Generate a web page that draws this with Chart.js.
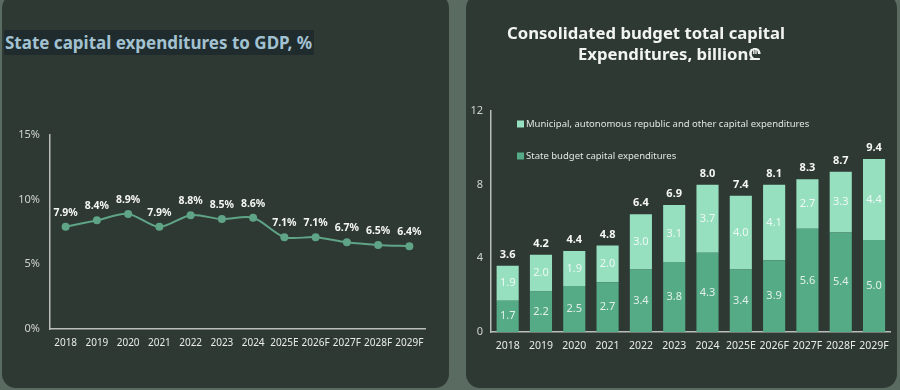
<!DOCTYPE html>
<html>
<head>
<meta charset="utf-8">
<script src="https://cdn.jsdelivr.net/npm/chart.js@4.4.1/dist/chart.umd.min.js"></script>
<style>
  html, body { margin:0; padding:0; }
  body { width:900px; height:390px; background:#5a6b61; position:relative; overflow:hidden; font-family:"Noto Sans", "Open Sans", sans-serif; }
  .panel { position:absolute; top:-6px; height:394px; background:#2f3934; border-radius:14px; }
  #p1 { left:2px; width:447px; }
  #p2 { left:466px; width:431px; }
  canvas { position:absolute; top:0; }
  #c1 { left:0; }
  #c2 { left:466px; }
  .t1 { position:absolute; left:4px; top:30px; height:25px; line-height:25px; padding:0 2px 0 1px; background:#1f2b2d; color:#a3c2d1; font-weight:700; font-size:17px; white-space:nowrap; }
  .t2 { position:absolute; color:#f2f4f2; font-weight:700; font-size:16.7px; white-space:nowrap; line-height:22px; }
</style>
</head>
<body>
<div class="panel" id="p1"></div>
<div class="panel" id="p2"></div>
<canvas id="c1" width="449" height="390"></canvas>
<canvas id="c2" width="431" height="390"></canvas>
<div class="t1">State capital expenditures to GDP, %</div>
<div class="t2" style="left:507px; top:22px;">Consolidated budget total capital</div>
<div class="t2" style="left:578px; top:43px;">Expenditures, billion₾</div>
<script>
// ---- Data ----
const years = ["2018","2019","2020","2021","2022","2023","2024","2025E","2026F","2027F","2028F","2029F"];
const gdpShare = [7.9, 8.4, 8.9, 7.9, 8.8, 8.5, 8.6, 7.1, 7.1, 6.7, 6.5, 6.4];
const pctTicks = [0, 5, 10, 15];

const stateCapex = [1.7, 2.2, 2.5, 2.7, 3.4, 3.8, 4.3, 3.4, 3.9, 5.6, 5.4, 5.0];
const municipalCapex = [1.9, 2.0, 1.9, 2.0, 3.0, 3.1, 3.7, 4.0, 4.1, 2.7, 3.3, 4.4];
const totalCapex = [3.6, 4.2, 4.4, 4.8, 6.4, 6.9, 8.0, 7.4, 8.1, 8.3, 8.7, 9.4];
const capexTicks = [0, 4, 8, 12];
const seriesNames = ["State budget capital expenditures", "Municipal, autonomous republic and other capital expenditures"];

const FONT = "'Noto Sans', 'Open Sans', sans-serif";
Chart.defaults.font.family = FONT;
Chart.defaults.animation = false;

// ---- Left: line chart ----
const lineLabels = {
  id: 'lineLabels',
  afterDatasetsDraw(chart) {
    const ctx = chart.ctx;
    const meta = chart.getDatasetMeta(0);
    ctx.save();
    ctx.font = "bold 10.5px " + FONT;
    ctx.fillStyle = '#f4f6f4';
    ctx.textAlign = 'center';
    ctx.textBaseline = 'middle';
    meta.data.forEach((pt, i) => {
      ctx.fillText(gdpShare[i].toFixed(1) + '%', pt.x, pt.y - 14);
    });
    ctx.restore();
  }
};

new Chart(document.getElementById('c1'), {
  type: 'line',
  data: {
    labels: years,
    datasets: [{
      data: gdpShare,
      borderColor: '#5fa486',
      backgroundColor: '#5fa486',
      borderWidth: 2,
      tension: 0.3,
      pointRadius: 4,
      pointBackgroundColor: '#5fa486',
      pointBorderWidth: 0
    }]
  },
  options: {
    responsive: false,
    layout: { padding: { left: 0, right: 24, top: 135, bottom: 0 } },
    plugins: { legend: { display: false }, tooltip: { enabled: false } },
    scales: {
      x: {
        offset: true,
        grid: { display: false, drawTicks: false },
        border: { display: true, color: '#b9beb9', width: 1.5 },
        ticks: { color: '#e8ece9', font: { size: 10 }, padding: 8, maxRotation: 0, autoSkip: false },
        afterFit(s) { s.height = 61; }
      },
      y: {
        min: 0, max: 15,
        afterBuildTicks(s) { s.ticks = pctTicks.map(v => ({ value: v })); },
        grid: { display: false, drawTicks: false },
        border: { display: true, color: '#b9beb9', width: 1.5 },
        ticks: { color: '#cfd4d0', font: { size: 11 }, padding: 10, callback: v => v + '%' },
        afterFit(s) { s.width = 50; }
      }
    }
  },
  plugins: [lineLabels]
});

// ---- Right: stacked bar chart ----
const barExtras = {
  id: 'barExtras',
  afterDatasetsDraw(chart) {
    const ctx = chart.ctx;
    const m0 = chart.getDatasetMeta(0);
    const m1 = chart.getDatasetMeta(1);
    ctx.save();
    ctx.textAlign = 'center';
    ctx.textBaseline = 'middle';
    ctx.font = "11px " + FONT;
    ctx.fillStyle = 'rgba(255,255,255,0.82)';
    [m0, m1].forEach((meta, di) => {
      const vals = di === 0 ? stateCapex : municipalCapex;
      meta.data.forEach((bar, i) => {
        const yc = (bar.y + bar.base) / 2;
        ctx.fillText(vals[i].toFixed(1), bar.x, yc);
      });
    });
    ctx.font = "bold 11px " + FONT;
    ctx.fillStyle = '#f6f8f6';
    m1.data.forEach((bar, i) => {
      ctx.fillText(totalCapex[i].toFixed(1), bar.x, bar.y - 11);
    });
    // legend inside chart area
    const a = chart.chartArea;
    const items = [
      { name: seriesNames[1], color: '#96dfbf', y: a.top + 13 },
      { name: seriesNames[0], color: '#55ab86', y: a.top + 45 }
    ];
    ctx.textAlign = 'left';
    ctx.font = "9.5px " + FONT;
    items.forEach(it => {
      ctx.fillStyle = it.color;
      ctx.fillRect(a.left + 26, it.y - 3.5, 7, 7);
      ctx.fillStyle = '#dfe6e2';
      ctx.fillText(it.name, a.left + 35, it.y);
    });
    ctx.restore();
  }
};

new Chart(document.getElementById('c2'), {
  type: 'bar',
  data: {
    labels: years,
    datasets: [
      { label: seriesNames[0], data: stateCapex, backgroundColor: '#55ab86', categoryPercentage: 0.8, barPercentage: 0.83 },
      { label: seriesNames[1], data: municipalCapex, backgroundColor: '#96dfbf', categoryPercentage: 0.8, barPercentage: 0.83 }
    ]
  },
  options: {
    responsive: false,
    layout: { padding: { left: 0, right: 5, top: 111, bottom: 0 } },
    plugins: { legend: { display: false }, tooltip: { enabled: false } },
    scales: {
      x: {
        stacked: true,
        grid: { display: false, drawTicks: false },
        border: { display: true, color: '#b9beb9', width: 1.5 },
        ticks: { color: '#e8ece9', font: { size: 10.5 }, padding: 8, maxRotation: 0, autoSkip: false },
        afterFit(s) { s.height = 58; }
      },
      y: {
        stacked: true,
        min: 0, max: 12,
        afterBuildTicks(s) { s.ticks = capexTicks.map(v => ({ value: v })); },
        grid: { display: false, drawTicks: false },
        border: { display: true, color: '#b9beb9', width: 1.5 },
        ticks: { color: '#cfd4d0', font: { size: 11 }, padding: 8 },
        afterFit(s) { s.width = 25; }
      }
    }
  },
  plugins: [barExtras]
});
</script>
</body>
</html>
